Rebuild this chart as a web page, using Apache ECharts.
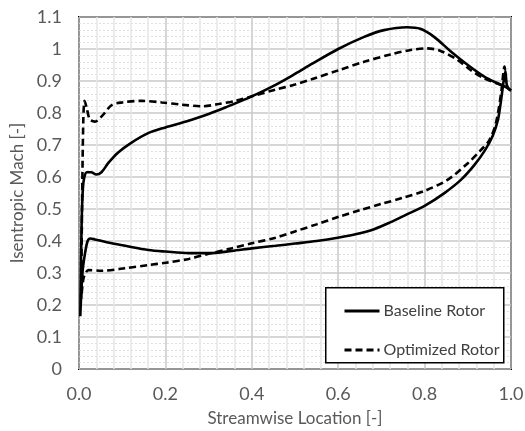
<!DOCTYPE html>
<html><head><meta charset="utf-8">
<script src="https://cdn.jsdelivr.net/npm/echarts@6/dist/echarts.min.js"></script>
<style>html,body{margin:0;padding:0;background:#fff}#c{width:525px;height:431px}</style>
</head><body><div id="c"></div>
<script>
// Baseline Rotor: suction side (LE -> TE) and pressure side (LE -> TE), [x, Mach]
const baselineSuction = [[0.003,0.165],[0.006,0.45],[0.010,0.58],[0.018,0.615],[0.028,0.615],[0.040,0.608],[0.052,0.615],[0.068,0.644],[0.090,0.676],[0.120,0.706],[0.160,0.737],[0.200,0.755],[0.250,0.774],[0.300,0.797],[0.340,0.818],[0.400,0.852],[0.455,0.888],[0.500,0.922],[0.540,0.954],[0.600,1.000],[0.660,1.038],[0.706,1.059],[0.760,1.068],[0.790,1.063],[0.822,1.038],[0.860,0.993],[0.900,0.950],[0.938,0.914],[0.975,0.889],[0.990,0.880],[1.000,0.870]];
const baselinePressure = [[0.003,0.165],[0.008,0.30],[0.014,0.362],[0.020,0.400],[0.026,0.408],[0.037,0.405],[0.064,0.396],[0.107,0.385],[0.161,0.372],[0.201,0.367],[0.254,0.362],[0.300,0.362],[0.354,0.369],[0.400,0.377],[0.455,0.385],[0.500,0.392],[0.550,0.400],[0.602,0.411],[0.640,0.421],[0.683,0.437],[0.720,0.458],[0.760,0.484],[0.799,0.509],[0.845,0.549],[0.884,0.591],[0.915,0.637],[0.940,0.684],[0.958,0.730],[0.970,0.780],[0.977,0.840],[0.983,0.900],[0.987,0.930],[0.990,0.890],[0.995,0.875],[1.000,0.870]];
// Optimized Rotor
const optimizedSuction = [[0.005,0.22],[0.007,0.50],[0.010,0.78],[0.013,0.838],[0.018,0.815],[0.025,0.780],[0.037,0.773],[0.053,0.790],[0.076,0.825],[0.100,0.833],[0.145,0.838],[0.192,0.833],[0.238,0.826],[0.285,0.821],[0.323,0.828],[0.362,0.838],[0.400,0.852],[0.455,0.873],[0.500,0.889],[0.544,0.908],[0.602,0.934],[0.660,0.960],[0.721,0.983],[0.768,0.997],[0.806,1.002],[0.837,0.994],[0.876,0.966],[0.907,0.934],[0.938,0.908],[0.977,0.888],[0.990,0.880],[1.000,0.870]];
const optimizedPressure = [[0.005,0.22],[0.010,0.28],[0.015,0.300],[0.022,0.309],[0.052,0.307],[0.107,0.315],[0.161,0.325],[0.201,0.332],[0.254,0.344],[0.300,0.360],[0.354,0.377],[0.400,0.393],[0.455,0.410],[0.500,0.430],[0.550,0.452],[0.602,0.476],[0.650,0.496],[0.700,0.516],[0.750,0.535],[0.799,0.556],[0.853,0.591],[0.900,0.643],[0.930,0.684],[0.950,0.715],[0.965,0.768],[0.977,0.861],[0.985,0.945],[0.990,0.885],[1.000,0.870]];
const seriesNames = ['Baseline Rotor','Optimized Rotor'];
const xTicks = {min:0, max:1, interval:0.2};
const yTicks = {min:0, max:1.1, interval:0.1};

function loop(s, p){ return s.slice().reverse().concat(p.slice(1)); }

const FONT = 'Lato';
const chart = echarts.init(document.getElementById('c'), null, {renderer:'canvas'});
chart.setOption({
  animation:false,
  backgroundColor:'#fff',
  grid:{left:79, right:14, top:17, bottom:62, outerBoundsMode:'none', containLabel:false, show:true, borderColor:'#000', borderWidth:2, backgroundColor:'transparent'},
  xAxis:{type:'value', min:xTicks.min, max:xTicks.max, interval:xTicks.interval,
    name:'Streamwise Location [-]', nameLocation:'middle', nameGap:41,
    nameTextStyle:{fontFamily:FONT, fontSize:17, color:'#595959'},
    axisLine:{show:false}, axisTick:{show:false},
    axisLabel:{fontFamily:FONT, fontSize:18, color:'#595959', margin:16, formatter:v=>v.toFixed(1)},
    splitLine:{show:true, lineStyle:{color:'#c8c8c8', width:1.5}},
    minorTick:{show:false, splitNumber:5},
    minorSplitLine:{show:true, lineStyle:{color:'#e6e6e6', width:1.5}}
  },
  yAxis:{type:'value', min:yTicks.min, max:yTicks.max, interval:yTicks.interval,
    name:'Isentropic Mach [-]', nameLocation:'middle', nameGap:50,
    nameTextStyle:{fontFamily:FONT, fontSize:17, color:'#595959'},
    axisLine:{show:false}, axisTick:{show:false},
    axisLabel:{fontFamily:FONT, fontSize:18, color:'#595959', margin:17, formatter:v=>String(Math.round(v*10)/10)},
    splitLine:{show:true, lineStyle:{color:'#c8c8c8', width:1.5}},
    minorTick:{show:false, splitNumber:5},
    minorSplitLine:{show:true, lineStyle:{color:'#e0e0e0', width:1, type:[2,2]}}
  },
  graphic:[{type:'rect', left:325, top:287, shape:{width:178, height:75}, style:{fill:'#fff', stroke:'#000', lineWidth:1.5}, z:50}],
  legend:{orient:'vertical', left:338, top:298, itemGap:23, itemWidth:35, itemHeight:14, z:60,
    itemStyle:{opacity:0}, lineStyle:{width:3},
    textStyle:{fontFamily:FONT, fontSize:16, lineHeight:14, color:'#404040', padding:[0,0,0,-1]},
    data:seriesNames},
  series:[
    {name:seriesNames[0], type:'line', data:loop(baselineSuction, baselinePressure), symbol:'none', smooth:0.3,
     lineStyle:{color:'#000', width:2.6}, itemStyle:{color:'#000'}},
    {name:seriesNames[1], type:'line', data:loop(optimizedSuction, optimizedPressure), symbol:'none', smooth:0.3,
     lineStyle:{color:'#000', width:2.6, type:[7,4]}, itemStyle:{color:'#000'}}
  ]
});
</script></body></html>
